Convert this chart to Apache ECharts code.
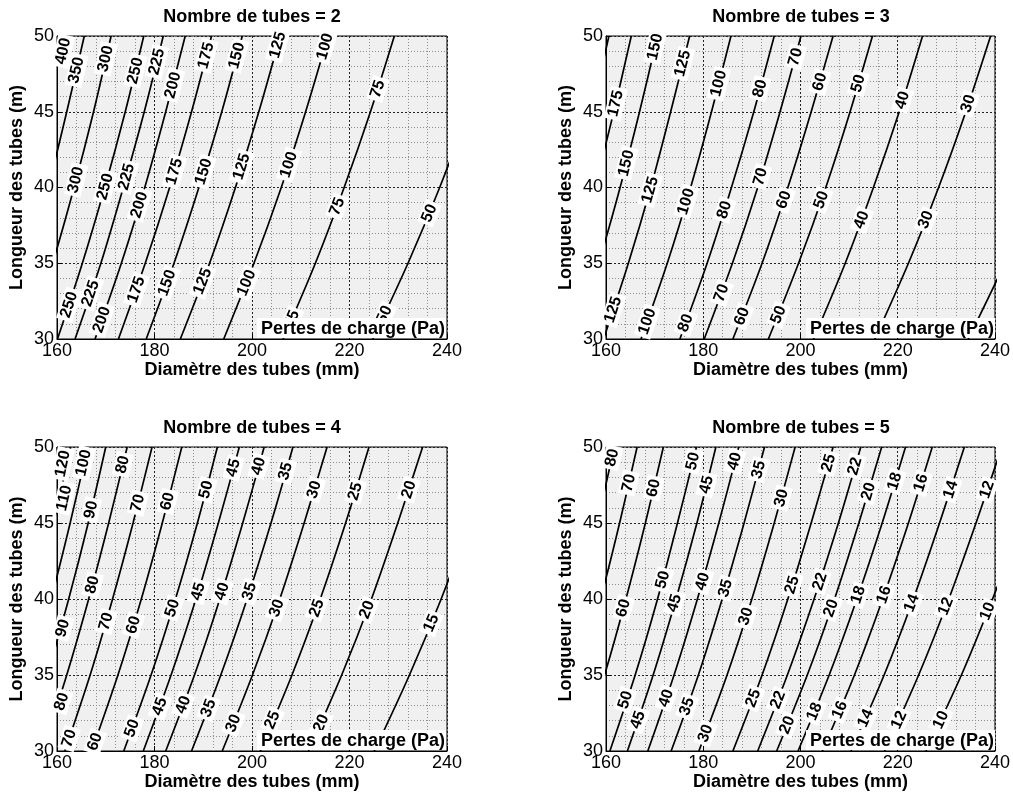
<!DOCTYPE html>
<html><head><meta charset="utf-8">
<script src="https://cdn.jsdelivr.net/npm/echarts@6/dist/echarts.min.js"></script>
<style>html,body{margin:0;padding:0;background:#fff}#c{width:1013px;height:793px}</style>
</head><body><div id="c"></div>
<script>
// ---- data ----
const X_TICKS = [160, 180, 200, 220, 240];
const Y_TICKS = [30, 35, 40, 45, 50];
const CONTOUR_Y = [30, 35, 40, 45, 50];           // tube length at which each contour point is read
const TITLES = ['Nombre de tubes = 2', 'Nombre de tubes = 3', 'Nombre de tubes = 4', 'Nombre de tubes = 5'];
const X_NAME = 'Diamètre des tubes (mm)';
const Y_NAME = 'Longueur des tubes (m)';
const NOTE = 'Pertes de charge (Pa)';

// Nombre de tubes = 2 : contour levels and diameter (mm) at L = 30,35,40,45,50 m
const N2_LEVELS = [400, 350, 300, 250, 225, 200, 175, 150, 125, 100, 75, 50];
const N2_X = [
  [145.0, 149.7, 153.8, 157.6, 161.0],
  [149.1, 153.9, 158.2, 162.0, 165.6],
  [154.1, 159.1, 163.5, 167.5, 171.1],
  [160.1, 165.2, 169.8, 174.0, 177.8],
  [163.7, 169.0, 173.6, 177.9, 181.8],
  [167.8, 173.2, 178.0, 182.3, 186.3],
  [172.6, 178.1, 183.1, 187.6, 191.7],
  [178.3, 184.0, 189.1, 193.8, 198.0],
  [185.3, 191.3, 196.6, 201.4, 205.8],
  [194.2, 200.4, 206.0, 211.0, 215.6],
  [206.4, 213.0, 218.9, 224.3, 229.2],
  [224.8, 232.0, 238.5, 244.3, 249.6]
];
const N2_LABELS = [
  [400,161.3,49.0],[350,164.0,47.74],
  [300,170.0,48.5],[300,163.9,40.5],
  [250,176.1,47.7],[250,169.9,40.05],[250,162.5,32.26],
  [225,180.5,48.3],[225,174.3,40.7],[225,166.9,33.0],
  [200,183.8,46.75],[200,176.9,38.85],[200,169.2,31.27],
  [175,190.6,48.7],[175,184.1,41.05],[175,176.3,33.25],
  [150,196.9,48.7],[150,190.1,41.05],[150,182.6,33.7],
  [125,205.3,49.4],[125,197.9,41.37],[125,189.9,33.8],
  [100,215.0,49.3],[100,207.6,41.5],[100,198.9,33.7],
  [75,225.8,46.5],[75,217.5,38.74],[75,208.2,31.3],
  [50,236.4,38.3],[50,227.2,31.6]
];

// Nombre de tubes = 3
const N3_LEVELS = [200, 175, 150, 125, 100, 80, 70, 60, 50, 40, 30, 20];
const N3_X = [
  [144.6, 149.2, 153.4, 157.1, 160.6],
  [148.7, 153.5, 157.7, 161.6, 165.2],
  [153.6, 158.5, 162.9, 166.9, 170.6],
  [159.5, 164.6, 169.2, 173.3, 177.2],
  [167.2, 172.6, 177.4, 181.7, 185.7],
  [175.2, 180.8, 185.8, 190.4, 194.6],
  [180.2, 186.0, 191.2, 195.8, 200.1],
  [186.1, 192.1, 197.4, 202.2, 206.7],
  [193.4, 199.6, 205.2, 210.2, 214.8],
  [202.7, 209.2, 215.0, 220.3, 225.1],
  [215.3, 222.2, 228.4, 234.0, 239.1],
  [234.5, 242.0, 248.8, 254.8, 260.5]
];
const N3_LABELS = [
  [150,170.1,49.28],[175,162.0,45.54],[125,175.8,48.18],[150,164.2,41.6],[125,169.1,39.84],[125,161.5,31.93],
  [100,183.2,46.86],[100,176.5,39.07],[100,168.5,31.16],
  [80,191.7,46.53],[80,184.4,38.52],[80,176.4,31.05],
  [70,199.0,48.62],[70,191.8,40.71],[70,183.8,33.03],
  [60,204.0,46.97],[60,196.6,39.18],[60,188.0,31.49],
  [50,211.9,46.86],[50,204.3,39.18],[50,195.5,31.6],
  [40,221.0,45.76],[40,212.6,37.86],
  [30,234.5,45.54],[30,225.8,37.86]
];

// Nombre de tubes = 4
const N4_LEVELS = [120, 110, 100, 90, 80, 70, 60, 50, 45, 40, 35, 30, 25, 20, 15];
const N4_X = [
  [143.9, 148.5, 152.6, 156.4, 159.8],
  [146.6, 151.3, 155.5, 159.3, 162.8],
  [149.7, 154.5, 158.8, 162.7, 166.3],
  [153.1, 158.0, 162.4, 166.4, 170.0],
  [157.0, 162.0, 166.5, 170.6, 174.4],
  [161.6, 166.8, 171.4, 175.6, 179.5],
  [167.1, 172.5, 177.3, 181.6, 185.6],
  [173.7, 179.3, 184.3, 188.8, 192.9],
  [177.7, 183.4, 188.5, 193.1, 197.4],
  [182.3, 188.2, 193.4, 198.1, 202.5],
  [187.6, 193.6, 199.0, 203.9, 208.4],
  [193.9, 200.1, 205.7, 210.7, 215.4],
  [201.7, 208.2, 214.0, 219.2, 224.0],
  [211.6, 218.4, 224.5, 229.9, 235.0],
  [225.1, 232.3, 238.8, 244.6, 250.0]
];
const N4_LABELS = [
  [120,161.2,48.9],[100,165.5,48.95],[80,173.5,48.84],[45,196.2,48.62],[40,201.4,48.73],[35,206.9,48.4],
  [110,161.5,46.64],[90,167.0,45.87],[70,176.6,46.31],[60,182.7,46.42],[50,190.6,47.19],[30,212.8,47.19],[25,221.2,47.08],[20,232.2,47.19],
  [80,167.3,40.93],[45,189.0,40.49],[40,193.9,40.49],[35,199.5,40.49],[50,183.7,39.4],[30,205.1,39.4],[25,213.3,39.4],[20,223.6,39.29],
  [90,161.2,38.08],[70,170.1,38.52],[60,175.7,38.3],[15,236.8,38.41],
  [80,161.0,33.25],[45,181.1,32.92],[40,185.9,33.03],[35,191.1,32.81],[50,175.4,31.49],[30,196.2,31.82],[25,204.2,32.04],[20,214.2,31.82],
  [70,162.5,30.83],[60,167.8,30.61]
];

// Nombre de tubes = 5
const N5_LEVELS = [80, 70, 60, 50, 45, 40, 35, 30, 25, 22, 20, 18, 16, 14, 12, 10];
const N5_X = [
  [145.6, 150.3, 154.5, 158.2, 161.7],
  [149.8, 154.6, 158.9, 162.8, 166.4],
  [154.7, 159.7, 164.1, 168.1, 171.8],
  [160.8, 166.0, 170.6, 174.7, 178.6],
  [164.4, 169.7, 174.4, 178.7, 182.6],
  [168.6, 174.0, 178.8, 183.2, 187.3],
  [173.4, 179.0, 183.9, 188.4, 192.6],
  [179.1, 184.9, 190.0, 194.6, 198.9],
  [186.1, 192.1, 197.4, 202.2, 206.7],
  [191.2, 197.3, 202.8, 207.8, 212.4],
  [195.1, 201.4, 207.0, 212.0, 216.7],
  [199.5, 205.9, 211.6, 216.8, 221.6],
  [204.5, 211.1, 216.9, 222.2, 227.1],
  [210.4, 217.2, 223.2, 228.6, 233.7],
  [217.3, 224.3, 230.5, 236.1, 241.4],
  [225.8, 233.1, 239.5, 245.4, 250.8]
];
const N5_LABELS = [
  [80,161.3,49.3],[70,164.7,47.63],[60,169.8,47.3],[50,177.9,49.06],[45,180.7,47.52],[40,186.5,49.06],[35,191.4,48.51],[30,196.1,46.64],
  [25,205.8,48.95],[22,211.2,48.73],[20,214.0,47.08],[18,219.4,47.74],[16,224.8,47.63],[14,230.9,47.19],[12,238.4,47.19],
  [60,163.6,39.4],[50,171.7,41.26],[45,174.1,39.73],[40,179.9,41.15],[35,184.6,40.71],[30,188.8,38.85],[25,198.3,40.93],[22,204.0,41.15],
  [20,206.3,39.4],[18,211.9,40.27],[16,217.2,40.27],[14,222.9,39.73],[12,229.9,39.51],[10,238.5,39.18],
  [50,164.0,33.36],[45,166.6,32.04],[40,172.4,33.47],[35,176.7,32.92],[30,180.5,31.16],[25,190.3,33.47],[22,195.4,33.36],
  [20,197.3,31.71],[18,202.9,32.59],[16,208.1,32.7],[14,213.4,32.15],[12,220.3,32.04],[10,228.9,32.04]
];

const PLOTS = [
  {levels: N2_LEVELS, xs: N2_X, labels: N2_LABELS},
  {levels: N3_LEVELS, xs: N3_X, labels: N3_LABELS},
  {levels: N4_LEVELS, xs: N4_X, labels: N4_LABELS},
  {levels: N5_LEVELS, xs: N5_X, labels: N5_LABELS}
];

// ---- layout / style ----
const FONT = '"Liberation Sans", Arial, Helvetica, sans-serif';
const FS = 18;
const GRIDS = [
  {left: 57, top: 36, width: 390, height: 303},
  {left: 606, top: 36, width: 390, height: 303},
  {left: 57, top: 447, width: 390, height: 304},
  {left: 606, top: 447, width: 390, height: 304}
];

const chart = echarts.init(document.getElementById('c'), null, {renderer: 'canvas'});

const axisCommon = {
  type: 'value',
  nameLocation: 'middle',
  nameTextStyle: {fontFamily: FONT, fontSize: FS, fontWeight: 'bold', color: '#000'},
  axisLine: {show: true, onZero: false, lineStyle: {color: '#000', width: 1}},
  axisTick: {show: true, inside: true, length: 5, lineStyle: {color: '#000'}},
  axisLabel: {color: '#000', fontSize: FS, fontFamily: FONT, margin: 3},
  splitLine: {show: true, lineStyle: {color: '#222', type: [2, 2], width: 1}},
  minorTick: {show: true, splitNumber: 5, length: 0},
  minorSplitLine: {show: true, lineStyle: {color: '#8c8c8c', type: [1, 2], width: 1}}
};

const option = {
  animation: false,
  backgroundColor: '#ffffff',
  textStyle: {fontFamily: FONT},
  title: GRIDS.map((g, i) => ({
    text: TITLES[i],
    left: g.left + g.width / 2,
    textAlign: 'center',
    top: g.top - 28,
    padding: 0,
    textStyle: {fontFamily: FONT, fontSize: FS, fontWeight: 'bold', color: '#000'}
  })),
  grid: GRIDS.map(g => ({
    left: g.left, top: g.top, width: g.width, height: g.height,
    show: true, backgroundColor: '#f0f0f0', borderColor: '#000', borderWidth: 1,
    containLabel: false
  })),
  xAxis: GRIDS.map((g, i) => Object.assign({}, axisCommon, {
    gridIndex: i,
    min: X_TICKS[0], max: X_TICKS[X_TICKS.length - 1], interval: X_TICKS[1] - X_TICKS[0],
    name: X_NAME, nameGap: 21
  })),
  yAxis: GRIDS.map((g, i) => Object.assign({}, axisCommon, {
    gridIndex: i,
    min: Y_TICKS[0], max: Y_TICKS[Y_TICKS.length - 1], interval: Y_TICKS[1] - Y_TICKS[0],
    name: Y_NAME, nameGap: 31
  })),
  series: [],
  graphic: []
};

// contour lines
PLOTS.forEach((p, gi) => {
  p.levels.forEach((lv, li) => {
    option.series.push({
      type: 'line', name: 'c' + gi + '_' + lv,
      xAxisIndex: gi, yAxisIndex: gi,
      data: p.xs[li].map((x, k) => [x, CONTOUR_Y[k]]),
      smooth: 0.3, showSymbol: false, symbol: 'none', silent: true, clip: true, z: 2,
      lineStyle: {color: '#000', width: 1.7}
    });
  });
});

// contour labels (rotation filled in after first layout)
const labelSeriesIdx = [];
PLOTS.forEach((p, gi) => {
  labelSeriesIdx.push(option.series.length);
  option.series.push({
    type: 'scatter', xAxisIndex: gi, yAxisIndex: gi, z: 5, silent: true,
    symbolSize: 1, itemStyle: {color: 'rgba(0,0,0,0)'},
    data: p.labels.map(([lv, x, y]) => ({value: [x, y], name: String(lv)})),
    label: {
      show: true, position: 'inside', formatter: '{b}',
      fontFamily: FONT, fontSize: 16, fontWeight: 'bold', color: '#000',
      backgroundColor: '#ffffff', padding: [1, 3, 0, 3], opacity: 1
    }
  });
});

// note boxes
GRIDS.forEach(g => {
  option.graphic.push({
    type: 'rect', z: 50, silent: true,
    shape: {x: g.left + 200, y: g.top + g.height - 21, width: 189, height: 20},
    style: {fill: '#ffffff'}
  });
  option.graphic.push({
    type: 'text', z: 51, silent: true,
    x: g.left + g.width - 2, y: g.top + g.height - 10,
    style: {text: NOTE, font: 'bold ' + FS + 'px ' + FONT, fill: '#000', align: 'right', verticalAlign: 'middle'}
  });
});

chart.setOption(option);

// compute label rotations from the local slope of each contour line in pixels
PLOTS.forEach((p, gi) => {
  const s = option.series[labelSeriesIdx[gi]];
  s.data = p.labels.map(([lv, x, y]) => {
    const li = p.levels.indexOf(lv);
    const xs = p.xs[li];
    let k = 0;
    while (k < CONTOUR_Y.length - 2 && y > CONTOUR_Y[k + 1]) k++;
    const a = chart.convertToPixel({xAxisIndex: gi, yAxisIndex: gi}, [xs[k], CONTOUR_Y[k]]);
    const b = chart.convertToPixel({xAxisIndex: gi, yAxisIndex: gi}, [xs[k + 1], CONTOUR_Y[k + 1]]);
    const ang = Math.atan2(a[1] - b[1], b[0] - a[0]) * 180 / Math.PI;
    return {value: [x, y], name: String(lv), label: {rotate: Math.round(ang)}};
  });
});
chart.setOption({series: option.series});
</script>
</body></html>
